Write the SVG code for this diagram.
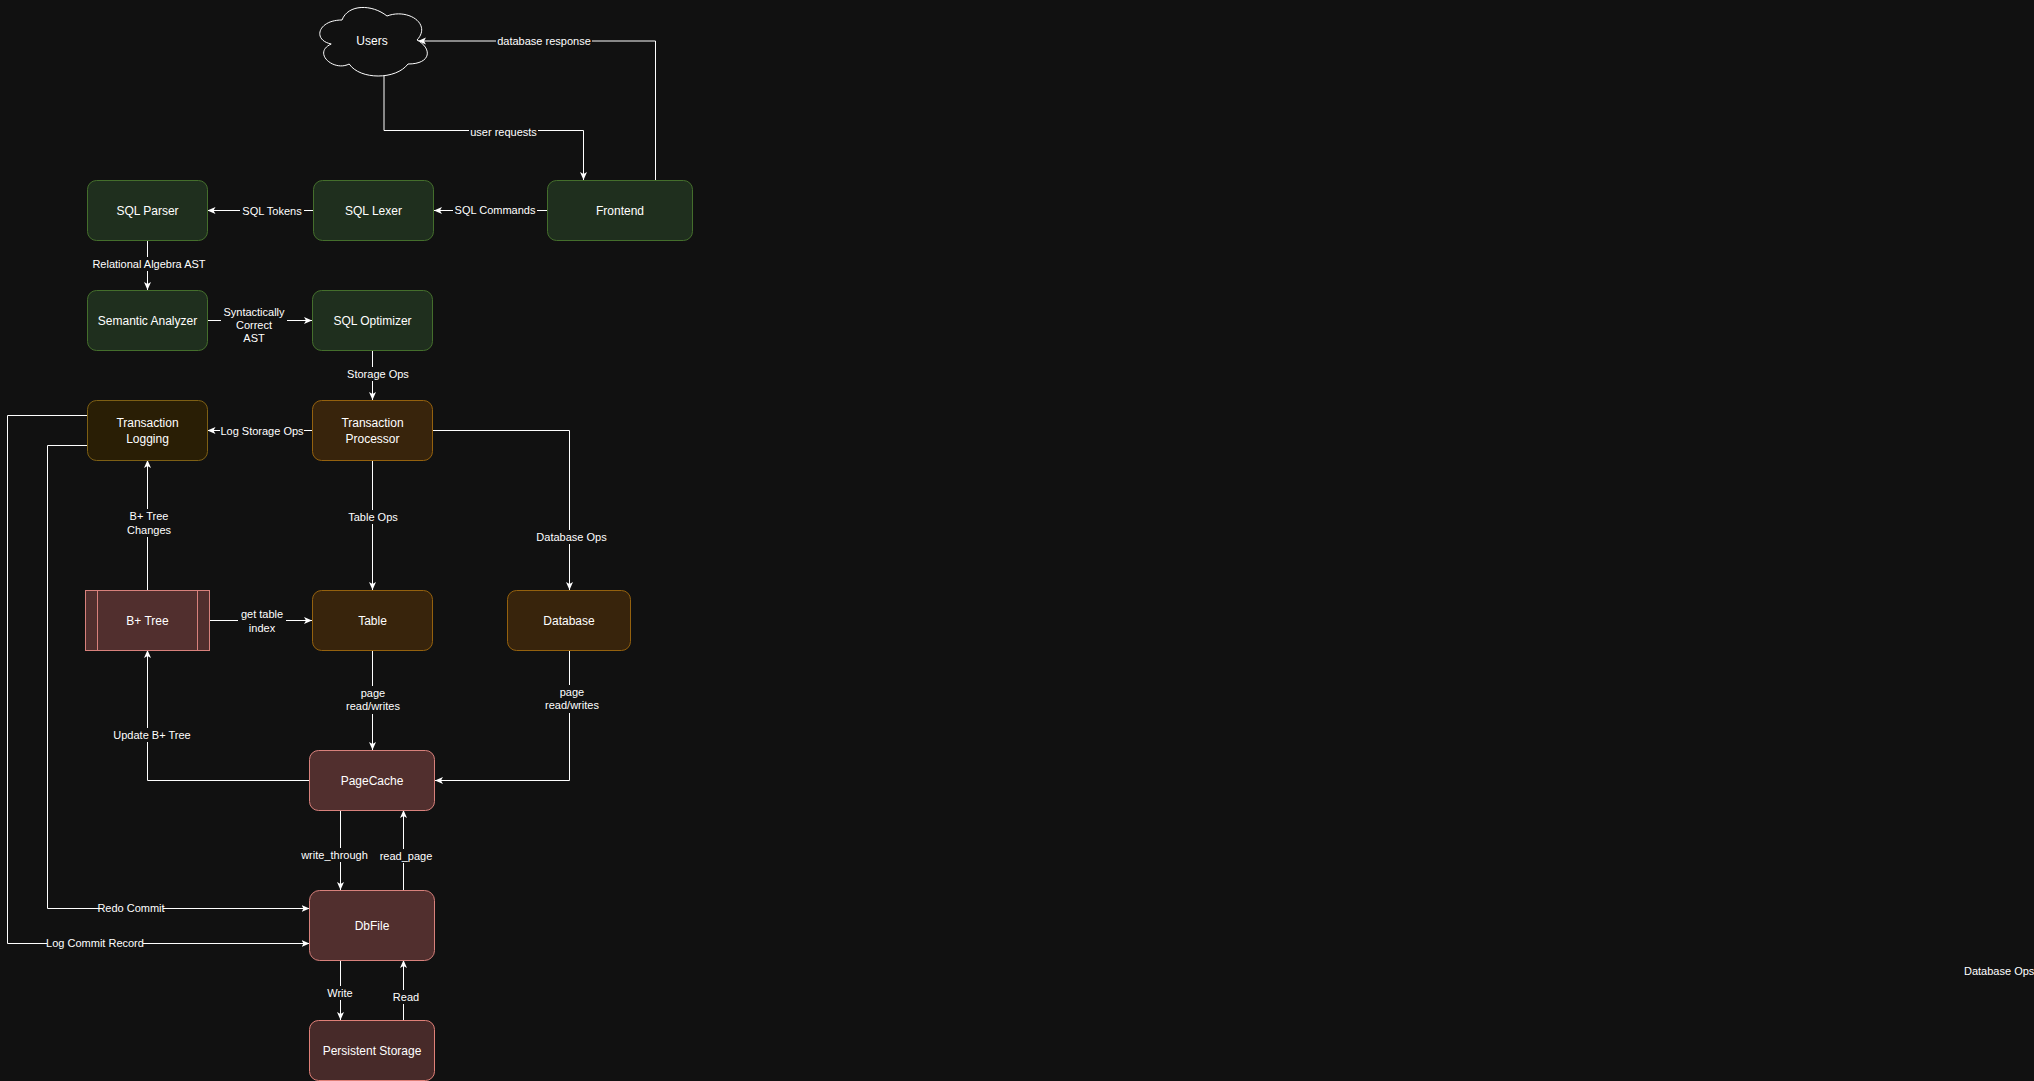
<svg xmlns="http://www.w3.org/2000/svg" width="2034" height="1081" viewBox="0 0 2034 1081">
<defs>
<marker id="arr" viewBox="0 0 8 8" refX="8" refY="4" markerWidth="8" markerHeight="8" markerUnits="userSpaceOnUse" orient="auto">
<path d="M0,0.5 L8,4 L0,7.5 L2,4 Z" fill="#ffffff"/>
</marker>
<style>
.bg{fill:#111111}
.edge{fill:none;stroke:#ffffff;stroke-width:1;marker-end:url(#arr)}
.lbl{font-family:"Liberation Sans",Arial,sans-serif;font-size:11px;fill:#ffffff;text-anchor:middle}
.lb{fill:#111111}
.nt{font-family:"Liberation Sans",Arial,sans-serif;font-size:12px;fill:#ffffff;text-anchor:middle}
.g{fill:#1f2f1e;stroke:#446e2c;stroke-width:1}
.y{fill:#291e05;stroke:#7d5f14;stroke-width:1}
.o{fill:#38240c;stroke:#94610e;stroke-width:1}
.r{fill:#512f2e;stroke:#d8817c;stroke-width:1}
.r2{fill:#472a29;stroke:#e08078;stroke-width:1}
</style>
</defs>
<rect class="bg" x="0" y="0" width="2034" height="1081"/>

<g id="connectors">
<path class="edge" d="M384,76 V130.5 H583.5 V180"/>
<path class="edge" d="M655.5,180 V41 H418"/>
<path class="edge" d="M547,210.5 H434"/>
<path class="edge" d="M313.5,210.5 H207.5"/>
<path class="edge" d="M147.5,240 V290"/>
<path class="edge" d="M207.5,320.5 H312"/>
<path class="edge" d="M372.5,350 V400"/>
<path class="edge" d="M312,430.5 H207.5"/>
<path class="edge" d="M432.5,430.5 H569.5 V590"/>
<path class="edge" d="M372.5,460 V590"/>
<path class="edge" d="M209.5,620.5 H312"/>
<path class="edge" d="M147.5,590 V460"/>
<path class="edge" d="M372.5,650 V750"/>
<path class="edge" d="M569.5,650 V780.5 H435"/>
<path class="edge" d="M309.5,780.5 H147.5 V650"/>
<path class="edge" d="M340.5,810 V890"/>
<path class="edge" d="M403.5,890 V810"/>
<path class="edge" d="M87,445.5 H47.5 V908.5 H309.5"/>
<path class="edge" d="M87,415.5 H7.5 V943.5 H309.5"/>
<path class="edge" d="M340.5,960 V1020"/>
<path class="edge" d="M403.5,1020 V960"/>

<g id="labels">
<rect class="lb" x="469" y="125" width="69" height="14"/>
<text class="lbl" x="503.5" y="136">user requests</text>
<rect class="lb" x="496" y="34" width="96" height="14"/>
<text class="lbl" x="544" y="45">database response</text>
<rect class="lb" x="453" y="203" width="84" height="14"/>
<text class="lbl" x="495" y="214">SQL Commands</text>
<rect class="lb" x="240" y="204" width="64" height="14"/>
<text class="lbl" x="272" y="215">SQL Tokens</text>
<rect class="lb" x="89" y="257" width="120" height="14"/>
<text class="lbl" x="149" y="268">Relational Algebra AST</text>
<rect class="lb" x="221" y="305" width="66" height="40"/>
<text class="lbl" x="254" y="316">Syntactically</text>
<text class="lbl" x="254" y="329">Correct</text>
<text class="lbl" x="254" y="342">AST</text>
<rect class="lb" x="347" y="367" width="62" height="14"/>
<text class="lbl" x="378" y="378">Storage Ops</text>
<rect class="lb" x="220" y="424" width="84" height="14"/>
<text class="lbl" x="262" y="435">Log Storage Ops</text>
<rect class="lb" x="536" y="530" width="71" height="14"/>
<text class="lbl" x="571.5" y="541">Database Ops</text>
<rect class="lb" x="347" y="510" width="52" height="14"/>
<text class="lbl" x="373" y="521">Table Ops</text>
<rect class="lb" x="238" y="607" width="48" height="28"/>
<text class="lbl" x="262" y="618">get table</text>
<text class="lbl" x="262" y="632">index</text>
<rect class="lb" x="126" y="509" width="46" height="28"/>
<text class="lbl" x="149" y="520">B+ Tree</text>
<text class="lbl" x="149" y="534">Changes</text>
<rect class="lb" x="344" y="686" width="58" height="28"/>
<text class="lbl" x="373" y="697">page</text>
<text class="lbl" x="373" y="710">read/writes</text>
<rect class="lb" x="543" y="685" width="58" height="28"/>
<text class="lbl" x="572" y="696">page</text>
<text class="lbl" x="572" y="709">read/writes</text>
<rect class="lb" x="113" y="728" width="78" height="14"/>
<text class="lbl" x="152" y="739">Update B+ Tree</text>
<rect class="lb" x="299" y="848" width="71" height="14"/>
<text class="lbl" x="334.5" y="859">write_through</text>
<rect class="lb" x="379" y="849" width="54" height="14"/>
<text class="lbl" x="406" y="860">read_page</text>
<rect class="lb" x="99" y="901" width="64" height="14"/>
<text class="lbl" x="131" y="912">Redo Commit</text>
<rect class="lb" x="47" y="936" width="96" height="14"/>
<text class="lbl" x="95" y="947">Log Commit Record</text>
<rect class="lb" x="325" y="986" width="30" height="14"/>
<text class="lbl" x="340" y="997">Write</text>
<rect class="lb" x="392" y="990" width="28" height="14"/>
<text class="lbl" x="406" y="1001">Read</text>
</g>
</g>

<text class="lbl" x="1964" y="975" style="text-anchor:start">Database Ops</text>

<g id="users">
<path d="M342,20 C318,20 312,40 331.2,44 C312,52.8 333.6,72 349.2,64 C360,80 396,80 408,64 C432,64 432,48 417,40 C432,24 408,8 387,16 C372,4 348,4 342,20 Z" fill="#111111" stroke="#ffffff" stroke-width="1"/>
<text class="nt" x="372" y="44.5">Users</text>
</g>
<g id="frontend">
<rect class="g" x="547.5" y="180.5" width="145" height="60" rx="9"/>
<text class="nt" x="620" y="214.5">Frontend</text>
</g>
<g id="sql-lexer">
<rect class="g" x="313.5" y="180.5" width="120" height="60" rx="9"/>
<text class="nt" x="373.5" y="214.5">SQL Lexer</text>
</g>
<g id="sql-parser">
<rect class="g" x="87.5" y="180.5" width="120" height="60" rx="9"/>
<text class="nt" x="147.5" y="214.5">SQL Parser</text>
</g>
<g id="semantic-analyzer">
<rect class="g" x="87.5" y="290.5" width="120" height="60" rx="9"/>
<text class="nt" x="147.5" y="324.5">Semantic Analyzer</text>
</g>
<g id="sql-optimizer">
<rect class="g" x="312.5" y="290.5" width="120" height="60" rx="9"/>
<text class="nt" x="372.5" y="324.5">SQL Optimizer</text>
</g>
<g id="transaction-logging">
<rect class="y" x="87.5" y="400.5" width="120" height="60" rx="9"/>
<text class="nt" x="147.5" y="426.5">Transaction</text>
<text class="nt" x="147.5" y="442.5">Logging</text>
</g>
<g id="transaction-processor">
<rect class="o" x="312.5" y="400.5" width="120" height="60" rx="9"/>
<text class="nt" x="372.5" y="426.5">Transaction</text>
<text class="nt" x="372.5" y="442.5">Processor</text>
</g>
<g id="bplus-tree">
<rect class="r" x="85.5" y="590.5" width="124" height="60"/>
<line x1="97.5" y1="590.5" x2="97.5" y2="650.5" stroke="#d8817c"/>
<line x1="197.5" y1="590.5" x2="197.5" y2="650.5" stroke="#d8817c"/>
<text class="nt" x="147.5" y="624.5">B+ Tree</text>
</g>
<g id="table">
<rect class="o" x="312.5" y="590.5" width="120" height="60" rx="9"/>
<text class="nt" x="372.5" y="624.5">Table</text>
</g>
<g id="database">
<rect class="o" x="507.5" y="590.5" width="123" height="60" rx="9"/>
<text class="nt" x="569" y="624.5">Database</text>
</g>
<g id="pagecache">
<rect class="r" x="309.5" y="750.5" width="125" height="60" rx="9"/>
<text class="nt" x="372" y="784.5">PageCache</text>
</g>
<g id="dbfile">
<rect class="r" x="309.5" y="890.5" width="125" height="70" rx="10"/>
<text class="nt" x="372" y="929.5">DbFile</text>
</g>
<g id="persistent-storage">
<rect class="r2" x="309.5" y="1020.5" width="125" height="60" rx="9"/>
<text class="nt" x="372" y="1054.5">Persistent Storage</text>
</g>
</svg>
